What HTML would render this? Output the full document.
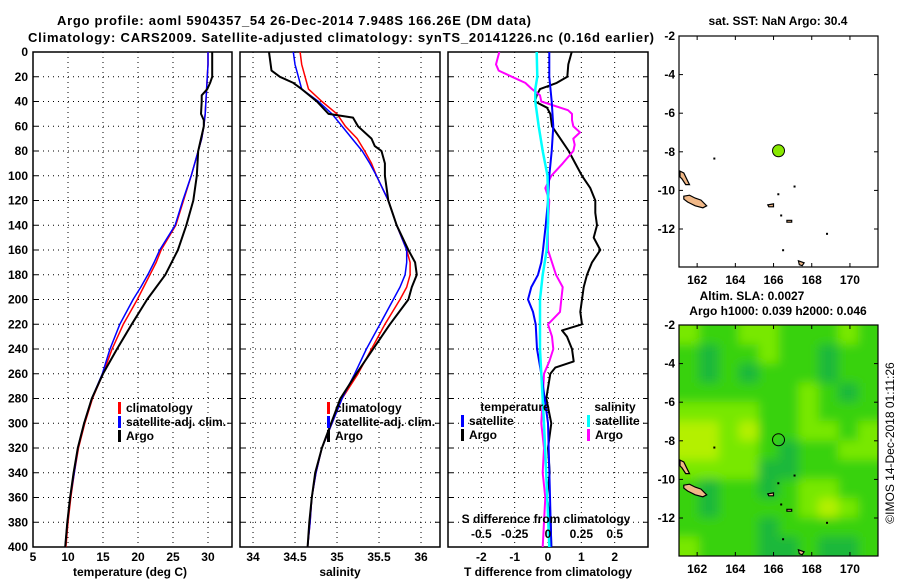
<!DOCTYPE html>
<html><head><meta charset="utf-8">
<style>
html,body{margin:0;padding:0;background:#fff;}
svg{display:block;font-family:"Liberation Sans",sans-serif;font-weight:bold;}
text{font-size:12px;fill:#000;}
</style></head>
<body>
<svg id="fig" width="900" height="580" viewBox="0 0 900 580">
<defs>
<filter id="blur" x="0" y="0" width="1" height="1"><feGaussianBlur stdDeviation="5" edgeMode="duplicate"/></filter>
<clipPath id="slaclip"><rect x="679" y="325" width="199" height="231"/></clipPath>
</defs>
<text x="294" y="25" text-anchor="middle" style="font-size:13px" textLength="474">Argo profile: aoml 5904357_54 26-Dec-2014 7.948S 166.26E (DM data)</text>
<text x="341" y="42" text-anchor="middle" style="font-size:13px" textLength="626">Climatology: CARS2009. Satellite-adjusted climatology: synTS_20141226.nc (0.16d earlier)</text>
<g id="p1"></g>
<g id="p2"></g>
<g id="p3"></g>
<g id="m1"></g>
<g id="m2"></g>
<text x="778" y="25" text-anchor="middle">sat. SST: NaN Argo: 30.4</text>
<text x="752" y="300" text-anchor="middle">Altim. SLA: 0.0027</text>
<text x="778" y="315" text-anchor="middle">Argo h1000: 0.039 h2000: 0.046</text>
<text transform="translate(894,443) rotate(-90)" text-anchor="middle" style="font-weight:normal">©IMOS 14-Dec-2018 01:11:26</text>
</svg>
<script>
// ---- data ----
const climDepth = [0,10,20,30,40,50,60,70,80,90,100,120,140,160,170,180,190,200,220,240,260,280,300,320,340,360,380,400];
const tempClim = [30.0,30.0,29.9,29.8,29.7,29.6,29.4,29.1,28.6,28.1,27.6,26.5,25.4,23.3,22.6,21.7,20.8,19.9,17.9,16.3,15.0,13.5,12.4,11.5,10.9,10.4,10.0,9.7];
const tempSat = [30.0,30.0,29.9,29.8,29.7,29.6,29.4,29.1,28.6,28.1,27.6,26.4,25.3,23.1,22.3,21.4,20.4,19.3,17.4,16.0,14.9,13.4,12.3,11.4,10.9,10.3,9.9,9.6];
const argoDepth = [0,10,20,25,30,35,40,50,55,60,80,100,120,140,160,180,200,220,240,260,280,300,320,340,360,380,400];
const tempArgo = [30.6,30.6,30.6,30.3,29.9,29.1,29.1,29.0,29.4,29.4,28.6,28.4,27.9,26.9,25.7,23.9,21.3,19.1,17.0,15.0,13.4,12.3,11.4,10.8,10.3,9.9,9.6];
const salClim = [34.56,34.58,34.62,34.66,34.82,35.00,35.10,35.24,35.33,35.41,35.47,35.61,35.71,35.83,35.87,35.87,35.83,35.75,35.57,35.41,35.25,35.06,34.94,34.82,34.75,34.70,34.68,34.65];
const salSat = [34.48,34.50,34.54,34.58,34.78,34.94,35.06,35.18,35.30,35.39,35.47,35.61,35.71,35.83,35.83,35.81,35.75,35.67,35.51,35.35,35.21,35.06,34.94,34.82,34.75,34.70,34.68,34.65];
const salArgoDepth = [0,15,20,25,30,40,50,53,60,70,76,80,90,100,120,140,160,170,180,190,200,220,240,260,280,300,320,340,360,380,400];
const salArgo = [34.19,34.22,34.32,34.48,34.58,34.76,34.90,35.19,35.25,35.41,35.45,35.53,35.57,35.57,35.61,35.71,35.85,35.93,35.95,35.89,35.85,35.63,35.43,35.23,35.04,34.93,34.82,34.74,34.70,34.67,34.65];
const tdDepthArgo = [0,10,20,25,30,35,40,45,50,60,70,80,90,100,110,120,130,140,150,160,170,180,190,200,210,220,225,230,240,250,255,260,280,300,320,340,360,380,400];
const tdArgo = [0.71,0.61,0.58,0.26,-0.24,-0.34,-0.39,-0.03,0.07,0.12,0.37,0.62,0.82,1.02,1.27,1.42,1.42,1.47,1.37,1.57,1.32,1.17,1.07,1.02,0.97,1.02,0.42,0.57,0.72,0.77,0.22,0.07,-0.05,0.1,0.0,0.05,-0.03,0.08,0.1];
const tdDepthSat = [0,20,40,60,80,100,120,140,160,170,180,190,200,210,220,240,260,280,300,350,400];
const tdSat = [0.04,0.04,0.11,0.16,0.11,0.04,0.0,-0.07,-0.15,-0.2,-0.3,-0.5,-0.6,-0.45,-0.37,-0.33,-0.2,-0.1,0.0,0.05,0.1];
const sdDepthSat = [0,20,30,40,60,80,100,120,140,160,180,200,240,260,300,350,400];
const sdSat = [-0.085,-0.08,-0.095,-0.095,-0.07,-0.04,-0.004,0.0,0.0,-0.01,-0.04,-0.06,-0.06,-0.05,-0.03,-0.01,0.01];
const sdDepthArgo = [0,10,15,20,25,30,35,40,47,50,55,60,65,70,75,80,90,100,110,120,140,160,170,180,190,200,210,220,230,240,250,260,280,300,320,340,360,380,400];
const sdArgo = [-0.365,-0.39,-0.37,-0.27,-0.17,-0.12,-0.06,-0.05,0.15,0.18,0.18,0.19,0.24,0.19,0.20,0.19,0.11,0.025,-0.02,0.01,0.0,0.0,0.03,0.06,0.11,0.10,0.09,0.0,0.03,0.04,0.01,-0.03,-0.04,-0.05,-0.03,-0.04,-0.02,-0.03,-0.04];
const depthTicks = [0,20,40,60,80,100,120,140,160,180,200,220,240,260,280,300,320,340,360,380,400];
const tTicks = [5,10,15,20,25,30];
const sTicks = [34,34.5,35,35.5,36];
const dTicks = [-2,-1,0,1,2];
const sdTicks = [-0.5,-0.25,0,0.25,0.5];
const sdTickLabels = ["-0.5","-0.25","0","0.25","0.5"];
const lonTicks = [162,164,166,168,170];
const latTicks = [-2,-4,-6,-8,-10,-12];
const argoLon = 166.26, argoLat = -7.948;
const slaLevels = [
[2,1,1,2,2,1,1,1,2,1],[1,0,1,1,2,1,1,0,1,1],[1,0,1,0,1,1,1,0,1,1],[1,1,1,1,1,1,2,1,0,1],
[2,2,2,2,1,1,2,1,1,1],[3,3,2,3,1,1,2,2,1,2],[3,3,2,2,1,0,1,1,2,2],[2,2,2,2,0,0,1,1,1,1],
[1,0,1,1,0,1,2,2,1,1],[1,0,1,1,1,1,2,3,2,1],[1,1,1,1,0,1,1,1,1,1],[2,1,1,1,0,0,1,0,0,1]];
// ---- drawing ----
const NS="http://www.w3.org/2000/svg";
function mk(tag,attrs,parent){const e=document.createElementNS(NS,tag);for(const k in attrs)e.setAttribute(k,attrs[k]);parent.appendChild(e);return e;}
const TOP=52,BOT=547;
const yD=d=>TOP+d*(BOT-TOP)/400;
function panel(g,x0,x1,xmin,xmax){
  const sx=v=>x0+(v-xmin)*(x1-x0)/(xmax-xmin);
  return sx;
}
function frame(g,x0,x1,sx,ticks,labels,showY){
  depthTicks.forEach(d=>{const y=yD(d);
    if(d>0&&d<400){const l=mk('line',{x1:x0,x2:x1,y1:y,y2:y,stroke:'#000','stroke-width':1,'stroke-dasharray':'1,4'},g);
    }
    mk('line',{x1:x0,x2:x0+5,y1:y,y2:y,stroke:'#000'},g);mk('line',{x1:x1-5,x2:x1,y1:y,y2:y,stroke:'#000'},g);
    if(showY){const t=mk('text',{x:x0-5,y:y+4,'text-anchor':'end'},g);t.textContent=d;
      }
  });
  ticks.forEach((v,i)=>{const x=sx(v);
    if(x>x0+2&&x<x1-2){const l=mk('line',{x1:x,x2:x,y1:TOP,y2:BOT,stroke:'#000','stroke-dasharray':'1,4'},g);
    }
    if(labels){const t=mk('text',{x:x,y:561,'text-anchor':'middle'},g);t.textContent=labels[i];
      }
  });
  const r=mk('rect',{x:x0,y:TOP,width:x1-x0,height:BOT-TOP,fill:'none',stroke:'#000','stroke-width':1.5},g);
  
}
function line(g,xs,ds,sx,color,w,name){
  const pts=xs.map((v,i)=>sx(v).toFixed(1)+','+yD(ds[i]).toFixed(1)).join(' ');
  const p=mk('polyline',{points:pts,fill:'none',stroke:color,'stroke-width':w,'stroke-linejoin':'round'},g);
  
}
function legend(g,x,y,items){
  items.forEach((it,i)=>{const yy=y+i*14;
    mk('rect',{x:x,y:yy-10,width:3,height:12,fill:it[1]},g);
    const t=mk('text',{x:x+8,y:yy},g);t.textContent=it[0];
    });
}
function label(g,x,y,txt,name){const t=mk('text',{x:x,y:y,'text-anchor':'middle'},g);t.textContent=txt;
  }
// panel 1
const g1=document.getElementById('p1');const s1=panel(g1,33,232,5,33.43);
frame(g1,33,232,s1,tTicks,tTicks.map(String),true);
line(g1,tempClim,climDepth,s1,'#f00',1.5,'temp-climatology-line');
line(g1,tempSat,climDepth,s1,'#00f',1.5,'temp-satellite-line');
line(g1,tempArgo,argoDepth,s1,'#000',2,'temp-argo-line');
legend(g1,118,412,[['climatology','#f00'],['satellite-adj. clim.','#00f'],['Argo','#000']]);
label(g1,130,576,'temperature (deg C)','x-axis-title-temperature');
// panel 2
const g2=document.getElementById('p2');const s2=panel(g2,240,440,33.845,36.226);
frame(g2,240,440,s2,sTicks,["34","34.5","35","35.5","36"],false);
line(g2,salClim,climDepth,s2,'#f00',1.5,'sal-climatology-line');
line(g2,salSat,climDepth,s2,'#00f',1.5,'sal-satellite-line');
line(g2,salArgo,salArgoDepth,s2,'#000',2,'sal-argo-line');
legend(g2,327,412,[['climatology','#f00'],['satellite-adj. clim.','#00f'],['Argo','#000']]);
label(g2,340,576,'salinity','x-axis-title-salinity');
// panel 3
const g3=document.getElementById('p3');const s3=panel(g3,448,648,-3,3);const s3s=v=>s3(v*4);
frame(g3,448,648,s3,dTicks,dTicks.map(String),false);
line(g3,tdArgo,tdDepthArgo,s3,'#000',2,'tdiff-argo-line');
line(g3,sdArgo,sdDepthArgo,s3s,'#f0f',2,'sdiff-argo-line');
line(g3,tdSat,tdDepthSat,s3,'#00f',2,'tdiff-satellite-line');
line(g3,sdSat,sdDepthSat,s3s,'#0ff',2.5,'sdiff-satellite-line');
label(g3,515,411,'temperature','legend-title-temperature');
legend(g3,461,425,[['satellite','#00f'],['Argo','#000']]);
label(g3,615,411,'salinity','legend-title-salinity');
legend(g3,587,425,[['satellite','#0ff'],['Argo','#f0f']]);
label(g3,546,523,'S difference from climatology','s-axis-title');
sdTicks.forEach((v,i)=>label(g3,s3s(v),538,sdTickLabels[i],'s-tick-label'));
label(g3,548,576,'T difference from climatology','x-axis-title-tdiff');
// maps
const islands=[
 [[161.1,-9.0],[161.3,-9.1],[161.5,-9.5],[161.6,-9.7],[161.4,-9.7],[161.2,-9.4],[161.1,-9.3]],
 [[161.3,-10.3],[161.6,-10.25],[161.9,-10.4],[162.2,-10.5],[162.5,-10.8],[162.3,-10.9],[161.9,-10.8],[161.5,-10.6],[161.3,-10.45]],
 [[165.7,-10.75],[166.0,-10.7],[166.0,-10.85],[165.75,-10.85]],
 [[166.7,-11.55],[166.95,-11.55],[166.95,-11.65],[166.7,-11.65]],
 [[167.3,-13.65],[167.6,-13.75],[167.5,-13.9],[167.35,-13.85]]];
const dots=[[162.9,-8.35],[166.25,-10.2],[167.1,-9.8],[166.4,-11.3],[168.8,-12.25],[166.5,-13.1]];
function map(id,y0,isSLA){
  const g=document.getElementById(id);const x0=679,x1=878,y1=y0+231;
  const px=lon=>x0+(lon-161.05)*19.1, py=lat=>y0+(-2-lat)*19.3;
  if(isSLA){
    const cols=['#1fb83a','#38d20a','#78e800','#b4f000'];
    const cw=(x1-x0)/10,ch=(y1-y0)/12;
    mk('rect',{x:x0,y:y0,width:x1-x0,height:y1-y0,fill:'#38d20a'},g);
    const cg=mk('g',{'clip-path':'url(#slaclip)'},g);
    const bg=mk('g',{filter:'url(#blur)'},cg);
    mk('rect',{x:x0-20,y:y0-20,width:x1-x0+40,height:y1-y0+40,fill:'#38d20a'},bg);
    slaLevels.forEach((row,r)=>row.forEach((lv,c)=>{
      const xx=x0+c*cw-(c===0?20:0), yy=y0+r*ch-(r===0?20:0);
      const ww=cw+0.5+(c===0?20:0)+(c===9?20:0), hh=ch+0.5+(r===0?20:0)+(r===11?20:0);
      const e=mk('rect',{x:xx.toFixed(1),y:yy.toFixed(1),width:ww.toFixed(1),height:hh.toFixed(1),fill:cols[lv]},bg);
      }));
  } else mk('rect',{x:x0,y:y0,width:x1-x0,height:y1-y0,fill:'#fff'},g);
  islands.forEach(p=>{const e=mk('polygon',{points:p.map(q=>px(q[0]).toFixed(1)+','+py(q[1]).toFixed(1)).join(' '),fill:'#f0b888',stroke:'#000','stroke-width':1.2},g);
    });
  dots.forEach(q=>mk('rect',{x:px(q[0])-1,y:py(q[1])-1,width:2,height:2,fill:'#000'},g));
  const c=mk('circle',{cx:px(argoLon),cy:py(argoLat),r:6,fill:isSLA?'none':'#88e800',stroke:'#000','stroke-width':1},g);
  
  const r=mk('rect',{x:x0,y:y0,width:x1-x0,height:y1-y0,fill:'none',stroke:'#000','stroke-width':1.2},g);
  
  lonTicks.forEach(l=>{const x=px(l);mk('line',{x1:x,x2:x,y1:y0,y2:y0+4,stroke:'#000'},g);mk('line',{x1:x,x2:x,y1:y1-4,y2:y1,stroke:'#000'},g);
    label(g,x,y1+17,String(l),'lon-tick-label');});
  latTicks.forEach(l=>{const y=py(l);mk('line',{x1:x0,x2:x0+4,y1:y,y2:y,stroke:'#000'},g);mk('line',{x1:x1-4,x2:x1,y1:y,y2:y,stroke:'#000'},g);
    const t=mk('text',{x:x0-4,y:y+4,'text-anchor':'end'},g);t.textContent=String(l);
    });
}
map('m1',36,false);
map('m2',325,true);
</script>
</body></html>
